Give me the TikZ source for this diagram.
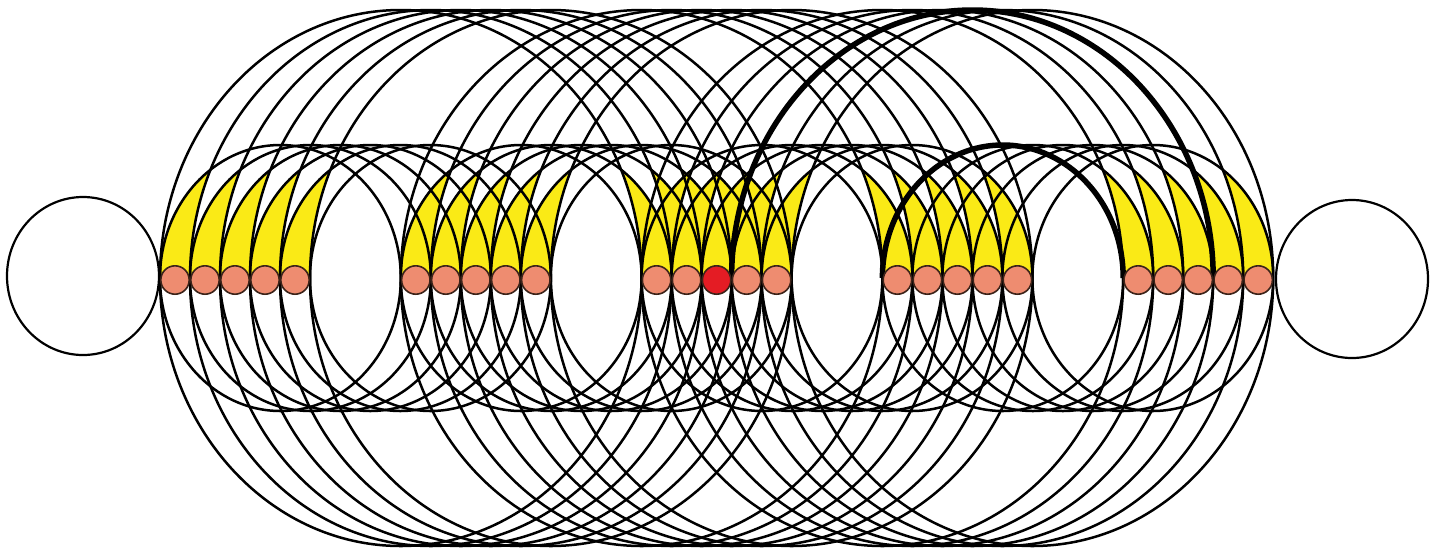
\documentclass[tikz,border=0pt]{standalone}
\usetikzlibrary{shapes.geometric}
\definecolor{horncol}{RGB}{250,234,22}
\definecolor{beadcol}{RGB}{238,140,112}
\definecolor{beadred}{RGB}{228,28,36}
\definecolor{beadline}{RGB}{60,35,25}
\begin{document}
\begin{tikzpicture}[x=1pt,y=1pt,
  ring/.style={line width=2.5pt, black},
  boldring/.style={line width=5.5pt, black},
  bead/.style={circle, draw=beadline, line width=1.6pt, minimum size=28.4pt, inner sep=0pt},
  bigring/.style={ellipse, draw, line width=2.2pt, fill=white, minimum width=152pt, minimum height=158pt, inner sep=0pt},
  innerellipse/.style={x radius=120.4pt, y radius=133pt},
  outerellipse/.style={x radius=240.8pt, y radius=268pt}]
\useasboundingbox (0,0) rectangle (1440,-550);
\fill[white] (0,0) rectangle (1440,-550);

% contact points between beads
\foreach \g in {1,...,5}{
  \foreach \i in {0,...,5}{
    \pgfmathsetmacro\cx{160+240.8*(\g-1)+30*\i}
    \coordinate (c-\g-\i) at (\cx,-278);
  }}

% yellow horns leaning right
\foreach \g in {1,2,3}{
  \foreach \k in {0,...,4}{
    \pgfmathtruncatemacro\kk{\k+1}
    \begin{scope}
      \clip (0,0) rectangle (1440,-280);
      \clip ([xshift=120.4pt]c-\g-\k) ellipse [innerellipse];
      \fill[horncol, even odd rule] (0,0) rectangle (1440,-550)
        ([xshift=240.8pt]c-\g-\kk) ellipse [outerellipse];
    \end{scope}
  }}
% yellow horns leaning left
\foreach \g in {3,4,5}{
  \foreach \k in {0,...,4}{
    \pgfmathtruncatemacro\kk{\k+1}
    \begin{scope}
      \clip (0,0) rectangle (1440,-280);
      \clip ([xshift=-120.4pt]c-\g-\kk) ellipse [innerellipse];
      \fill[horncol, even odd rule] (0,0) rectangle (1440,-550)
        ([xshift=-240.8pt]c-\g-\k) ellipse [outerellipse];
    \end{scope}
  }}

% thin rings
\foreach \g in {1,...,4}{
  \foreach \i in {0,...,5}{
    \draw[ring] (c-\g-\i) arc [start angle=180, delta angle=360, innerellipse];
  }}
\foreach \g in {1,2,3}{
  \foreach \i in {0,...,5}{
    \draw[ring] (c-\g-\i) arc [start angle=180, delta angle=360, outerellipse];
  }}

% bold arcs
\draw[boldring] (c-4-0) arc [start angle=180, end angle=0, innerellipse];
\draw[boldring] (c-3-3) arc [start angle=180, end angle=0, outerellipse];

% beads
\foreach \g in {1,...,5}{
  \foreach \k in {0,...,4}{
    \pgfmathsetmacro\nx{175+240.8*(\g-1)+30*\k}
    \ifnum\g\k=32 \def\col{beadred}\else\def\col{beadcol}\fi
    \node[bead, fill=\col] (n-\g-\k) at (\nx,-280) {};
  }}

% end circles
\node[bigring] (L) at (83,-276) {};
\node[bigring] (R) at (1352,-279) {};
\end{tikzpicture}
\end{document}
